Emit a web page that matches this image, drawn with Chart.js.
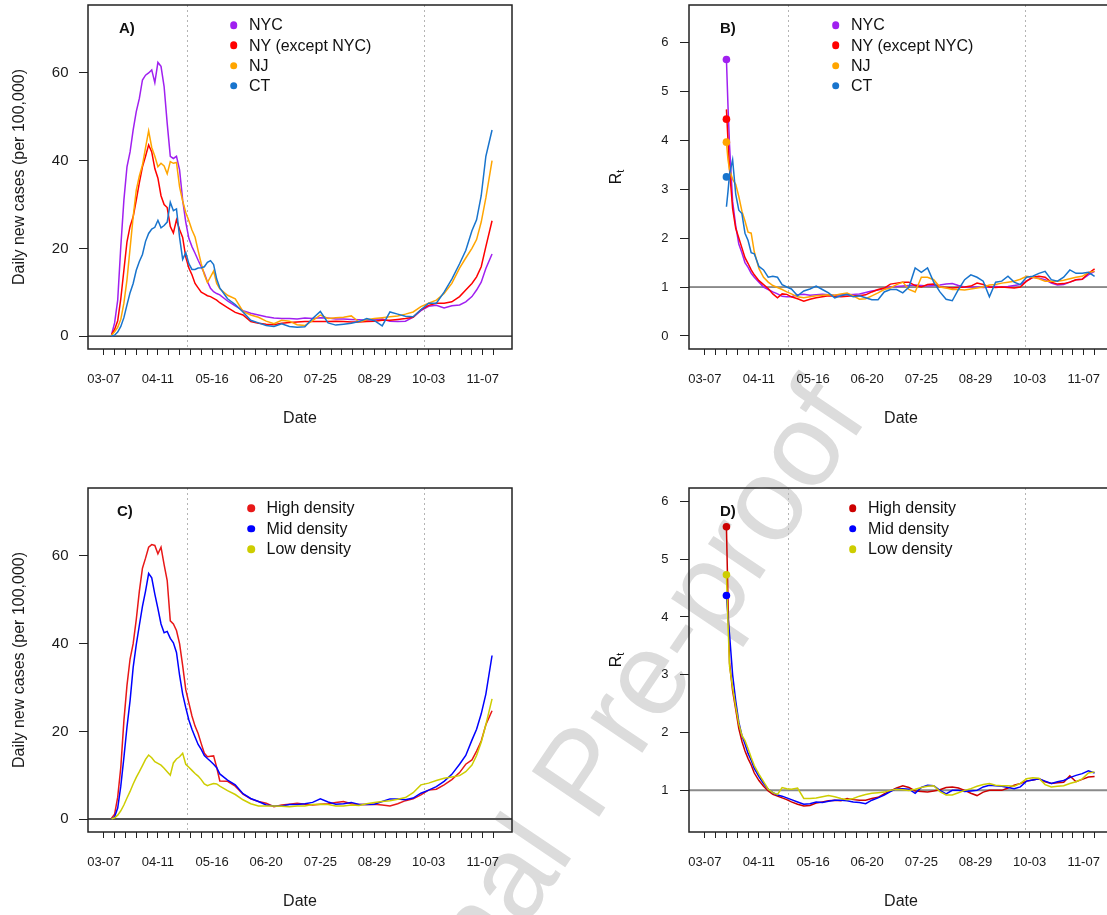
<!DOCTYPE html>
<html>
<head>
<meta charset="utf-8">
<title>Daily new cases and Rt</title>
<script src="https://cdn.jsdelivr.net/npm/chart.js@4.4.1/dist/chart.umd.min.js"></script>
<style>
  html, body { margin:0; padding:0; background:#fff; width:1107px; height:915px; overflow:hidden; position:relative; }
  canvas { position:absolute; z-index:1; }
  #overlay { position:absolute; left:0; top:0; z-index:2; }
  .t { position:absolute; font-family:'Liberation Sans', Arial, Helvetica, sans-serif; color:#111; white-space:nowrap; line-height:1; }
  .tag { font-size:15px; font-weight:bold; }
  .leg { font-size:16px; }
  .dot { position:absolute; width:7.6px; height:7.6px; border-radius:50%; transform:translate(-50%,-50%); }
  .rt { font-size:16px; transform:translate(-50%,-50%) rotate(-90deg); }
  .rt sub { font-size:11px; vertical-align:-3px; }
  .wm { position:absolute; z-index:0; left:580px; top:772px; font-family:'Liberation Sans', Arial, sans-serif; font-size:118px; line-height:1;
        color:#dcdcdc; white-space:nowrap; transform:translate(-50%,-50%) rotate(-56deg); pointer-events:none; }
</style>
</head>
<body>
<div class="wm">Journal Pre-proof</div>
<canvas id="cA" width="540" height="460" style="left:0;top:0;width:540px;height:460px"></canvas>
<canvas id="cB" width="540" height="460" style="left:601px;top:0;width:540px;height:460px"></canvas>
<canvas id="cC" width="540" height="460" style="left:0;top:470px;width:540px;height:460px"></canvas>
<canvas id="cD" width="540" height="460" style="left:601px;top:470px;width:540px;height:460px"></canvas>
<div id="overlay"></div>
<script>
// ---------------- data ----------------
// day numbers count from 03-07 (day 0)
const casesDays = [5,7,9,11,13,15,17,19,21,23,25,27,29,31,33,35,37,39,41,43,45,47,49,51,53,55,57,59,61,63,65,67,69,71,73,75,
  80,85,90,95,100,105,110,115,120,125,130,135,140,145,150,155,160,165,170,175,180,185,190,195,200,205,210,215,220,225,
  230,234,238,241,244,247,251];

const nycCases = [0.3,3,8.2,20.4,31,38.6,42,47,51.2,54.2,58.4,59.5,60,60.7,57.8,62.4,61.5,56.9,48.5,41,40.5,41,37.9,31,26,22.3,20.4,18.9,17.3,15.8,14.3,12.4,10.9,10.1,9.7,9.4,
  8.0,6.9,5.8,5.2,4.8,4.4,4.1,4.0,4.0,3.9,4.1,4.0,4.2,4.1,3.9,3.9,3.8,3.7,3.6,3.8,3.9,3.4,3.3,3.4,4.3,5.8,6.8,7.0,6.4,6.9,
  7.1,7.8,9.0,10.5,12.3,15.4,18.7];
const nyCases = [0.3,1.5,3.5,8.5,15,21.5,25,27.2,31,35,38.6,41,43.6,42,38.2,36,32,30,29.3,25,23.5,26.5,24.3,22.5,18,15.5,14,12,11,10,9.6,9.2,9,8.6,8.2,7.6,
  6.5,5.4,4.8,3.3,2.9,2.7,2.6,2.9,3.1,3.2,3.3,3.3,3.3,3.3,3.4,3.3,3.2,3.2,3.3,3.4,3.6,3.6,3.8,4.0,4.3,6.0,7.0,7.5,7.5,7.8,
  9.0,10.5,12.0,13.5,15.8,20.4,26.3];
const njCases = [0.2,1,2,3.8,7.5,12.8,20,27.2,33.3,36.5,39,43,46.8,43,41,38.6,39.4,38.8,37,39.8,39.4,39.6,34,30.8,28.2,26.3,24.2,22.6,19.5,16.5,14,12.2,13.5,14.8,12,10.8,
  9.3,8.5,5.6,4.8,4.3,3.4,2.8,3.6,3.4,2.6,2.4,3.5,4.8,4.0,4.2,4.3,4.6,3.2,3.7,4.0,4.2,4.4,4.6,5.0,5.5,6.7,7.5,8.2,9.7,12.0,
  15.5,17.8,20.0,22.0,26.0,31.5,40.0];
const ctCases = [0,0.2,0.9,2.2,4.2,7.1,9.9,12,15,17,18.6,21.6,23.4,24.4,24.8,26.4,24.7,25.2,26,30.5,28.6,29,22.5,17.5,19,16.5,15.2,15.2,15.5,15.6,15.8,16.8,17.2,16.3,13,11,
  8.5,7.2,5.5,3.6,3.0,2.4,2.2,2.8,2.2,2.0,2.1,4.0,5.6,3.0,2.5,2.7,2.9,3.3,4.0,3.5,2.3,5.5,5.0,4.5,4.4,6.0,7.5,7.5,10.0,13.0,
  16.5,19.5,24.0,26.5,32.0,41.0,47.0];

const highCases = [0.2,1.1,5,11.8,22.4,30.5,36.5,40,45.5,52,57.2,59.5,62,62.6,62.4,60.5,62,58,54.4,45.2,44.5,43,40,35,29.5,26.5,23.5,21.2,19.5,17.2,15,14.2,14.3,14.4,11.8,8.7,
  8.6,7.5,5.7,4.6,4.0,3.6,2.8,3.2,3.4,3.6,3.4,3.2,3.4,3.5,3.8,4.0,3.5,3.3,3.3,3.4,3.2,3.0,3.5,4.2,4.6,5.5,6.6,6.8,7.8,9.0,
  10.6,12.5,13.5,15.5,17.8,21.5,24.7];
const midCases = [0,0.5,2.5,7.5,14,21,27,34.6,39.8,44.2,48.5,52,56,55,51.3,48,44.5,42.5,42.8,41.2,40.2,38,32.8,28.5,25.4,22.6,20.5,18.7,17,15.9,14.5,13.8,13.2,12.5,11.7,10.3,
  8.9,7.8,5.8,4.7,4.0,3.2,3.0,3.0,3.3,3.3,3.5,3.8,4.6,3.9,3.4,3.5,3.8,3.3,3.3,3.4,4.0,4.6,4.6,4.4,4.8,5.9,6.6,7.4,8.6,10.2,
  12.5,14.5,18.0,20.5,24.0,28.5,37.3];
const lowCases = [0,0.3,0.9,1.9,3.2,4.8,6.3,8,9.5,10.8,12.2,13.6,14.6,14,13.1,12.7,12.3,11.6,10.8,10,12.8,13.7,14.2,15,12.5,11.8,11.1,10.4,9.8,9.0,8.0,7.6,7.9,8.1,8.0,7.5,
  6.5,5.6,4.4,3.5,3.0,3.0,3.0,2.9,2.8,3.0,3.0,3.3,3.4,3.3,3.0,3.0,3.2,3.1,3.5,3.8,4.0,4.2,4.5,4.9,6.0,7.8,8.2,8.8,9.3,9.6,
  9.9,10.8,12.3,14.5,17.5,21.5,27.4];

const rtDays = [14,15,16,18,20,22,24,26,28,30,32,35,38,41,44,47,50,53,56,
  60,64,68,72,76,80,84,88,92,96,100,104,108,112,116,120,124,128,132,136,140,144,148,152,156,160,164,168,172,176,180,
  184,188,192,196,200,204,208,212,216,220,224,228,232,236,240,244,248,252];

const nycRt = [5.65,4.7,3.9,2.75,2.25,1.88,1.7,1.5,1.4,1.28,1.2,1.1,1.0,0.95,0.9,0.86,0.81,0.8,0.8,
  0.84,0.85,0.83,0.84,0.85,0.84,0.83,0.84,0.84,0.85,0.86,0.89,0.92,0.94,0.97,1.0,1.01,1.02,1.03,1.04,1.03,1.02,1.03,1.04,1.06,1.07,1.03,1.0,1.0,1.0,0.99,
  1.0,1.01,1.0,1.01,1.03,1.05,1.12,1.2,1.18,1.15,1.08,1.04,1.05,1.1,1.15,1.16,1.25,1.32];
const nyRt = [4.63,4.0,3.4,2.6,2.2,2.0,1.8,1.6,1.48,1.35,1.25,1.13,1.05,0.97,0.86,0.78,0.86,0.85,0.8,
  0.76,0.71,0.75,0.78,0.80,0.82,0.81,0.80,0.81,0.82,0.82,0.84,0.90,0.95,0.98,1.06,1.08,1.10,1.10,1.03,1.0,1.05,1.06,1.0,0.99,0.98,0.99,1.0,1.02,1.08,1.05,
  1.0,0.99,1.0,0.99,0.98,1.0,1.12,1.2,1.22,1.2,1.1,1.06,1.07,1.1,1.15,1.16,1.28,1.37];
const njRt = [3.96,3.6,3.4,3.2,3.1,2.85,2.55,2.35,2.12,2.1,1.72,1.38,1.2,1.1,1.03,0.99,0.95,0.9,0.86,
  0.8,0.78,0.8,0.82,0.83,0.84,0.83,0.86,0.88,0.82,0.75,0.76,0.82,0.88,0.95,0.98,1.05,1.1,0.95,0.9,1.2,1.2,1.15,1.0,0.98,0.95,0.95,0.94,0.96,0.98,1.0,
  1.04,1.05,1.08,1.1,1.12,1.16,1.22,1.2,1.17,1.12,1.12,1.12,1.14,1.17,1.2,1.22,1.3,1.32];
const ctRt = [2.64,2.95,3.3,3.6,2.9,2.57,2.5,2.1,1.95,1.7,1.68,1.42,1.35,1.2,1.22,1.2,1.05,1.0,0.96,
  0.82,0.92,0.96,1.02,0.95,0.88,0.78,0.82,0.85,0.80,0.82,0.78,0.74,0.74,0.90,0.95,0.95,0.88,1.0,1.39,1.3,1.39,1.1,0.9,0.75,0.72,0.95,1.15,1.25,1.2,1.12,
  0.8,1.1,1.12,1.22,1.1,1.05,1.2,1.22,1.28,1.32,1.15,1.12,1.2,1.35,1.28,1.28,1.3,1.22];

const highRt = [5.56,4.3,3.2,2.72,2.4,2.07,1.85,1.68,1.55,1.44,1.3,1.17,1.07,0.99,0.93,0.9,0.87,0.84,0.8,
  0.76,0.73,0.74,0.78,0.80,0.82,0.83,0.82,0.86,0.84,0.83,0.83,0.86,0.88,0.94,0.99,1.04,1.08,1.05,0.99,0.98,0.97,0.99,1.01,1.05,1.06,1.04,1.0,0.95,0.91,0.97,
  1.0,1.0,1.0,1.04,1.09,1.12,1.16,1.18,1.2,1.15,1.12,1.13,1.14,1.25,1.15,1.19,1.23,1.24];
const midRt = [4.37,4.0,3.7,3.0,2.55,2.18,1.95,1.8,1.64,1.52,1.38,1.24,1.12,1.02,0.96,0.92,0.9,0.87,0.84,
  0.8,0.76,0.77,0.8,0.79,0.81,0.83,0.83,0.82,0.8,0.79,0.77,0.83,0.87,0.92,0.98,1.03,1.03,1.02,0.95,1.05,1.09,1.08,1.0,0.94,1.0,1.0,0.98,0.99,1.0,1.06,
  1.09,1.08,1.07,1.05,1.03,1.06,1.16,1.18,1.2,1.16,1.12,1.15,1.17,1.22,1.26,1.29,1.34,1.3];
const lowRt = [4.73,3.9,3.15,2.78,2.45,2.15,1.95,1.86,1.72,1.57,1.43,1.28,1.15,1.02,0.96,0.93,1.05,1.03,1.02,
  1.04,0.86,0.86,0.87,0.89,0.91,0.89,0.86,0.84,0.86,0.9,0.93,0.95,0.96,0.97,1.0,1.02,1.01,1.0,1.02,1.05,1.07,1.08,0.98,0.92,0.92,0.96,1.0,1.03,1.07,1.1,
  1.12,1.09,1.08,1.08,1.07,1.12,1.2,1.22,1.21,1.1,1.06,1.07,1.08,1.12,1.15,1.2,1.3,1.32];

// first estimated Rt shown as a point (day 14)
const rtStartDay = 14;
const stateRtStart = [5.65, 4.43, 3.96, 3.25];
const densityRtStart = [5.56, 4.37, 4.73];

const stateNames = ['NYC', 'NY (except NYC)', 'NJ', 'CT'];
const densityNames = ['High density', 'Mid density', 'Low density'];

// axis ticks
const weekTickDays = [0,7,14,21,28,35,42,49,56,63,70,77,84,91,98,105,112,119,126,133,140,147,154,161,168,175,182,189,196,203,210,217,224,231,238,245,252];
const labelDays = [0,35,70,105,140,175,210,245];
const dateLabels = ['03-07','04-11','05-16','06-20','07-25','08-29','10-03','11-07'];
const casesTicks = [0,20,40,60];
const rtTicksB = [0,1,2,3,4,5,6];
const rtTicksD = [1,2,3,4,5,6];
const eventDays = [54, 207];   // 04-30 and 09-30

// ---------------- styling ----------------
const stateColors = ['#A020F0', '#FF0000', '#FFA500', '#1874CD'];
const densityColorsC = ['#E81818', '#0000FF', '#CDCD00'];
const densityColorsD = ['#CC0000', '#0000FF', '#CDCD00'];

Chart.defaults.font.family = "'Liberation Sans', Arial, Helvetica, sans-serif";
Chart.defaults.color = '#1a1a1a';

const X_MIN = -10.2, X_MAX = 263.9;

const framePlugin = {
  id: 'frame',
  beforeDatasetsDraw(chart, args, o) {
    const {ctx, chartArea: {left, right, top, bottom}, scales: {x, y}} = chart;
    ctx.save();
    ctx.strokeStyle = '#b4b4b4'; ctx.lineWidth = 1; ctx.setLineDash([2, 3]);
    o.events.forEach(d => {
      const px = Math.round(x.getPixelForValue(d)) + 0.5;
      ctx.beginPath(); ctx.moveTo(px, top); ctx.lineTo(px, bottom); ctx.stroke();
    });
    ctx.setLineDash([]);
    const py = y.getPixelForValue(o.ref);
    ctx.strokeStyle = o.refColor; ctx.lineWidth = o.refWidth;
    ctx.beginPath(); ctx.moveTo(left, py); ctx.lineTo(right, py); ctx.stroke();
    ctx.restore();
  },
  afterDraw(chart) {
    const {ctx, chartArea: {left, right, top, bottom}} = chart;
    ctx.save();
    ctx.strokeStyle = '#222'; ctx.lineWidth = 1.5;
    ctx.strokeRect(left, top, right - left, bottom - top);
    ctx.restore();
  }
};

function zeroPad(s) { s.paddingTop = 0; s.paddingBottom = 0; s.paddingLeft = 0; s.paddingRight = 0; }

function buildChart(id, o) {
  const datasets = o.series.map((vals, i) => ({
    type: 'line',
    data: o.days.map((d, k) => ({x: d, y: vals[k]})),
    borderColor: o.colors[i], borderWidth: 1.5, pointRadius: 0, tension: 0, fill: false,
    order: o.series.length - i + 1
  }));
  if (o.start) {
    datasets.push({
      type: 'scatter',
      data: o.start.map(v => ({x: rtStartDay, y: v})),
      pointRadius: 3.8, pointBackgroundColor: o.colors, pointBorderColor: o.colors, pointBorderWidth: 0,
      showLine: false, order: 0
    });
  }
  return new Chart(document.getElementById(id), {
    type: 'line',
    data: {datasets},
    options: {
      responsive: false, animation: false, devicePixelRatio: 1, events: [],
      layout: {padding: {left: 0, right: o.padRight, top: o.padTop, bottom: 0}},
      plugins: {legend: {display: false}, tooltip: {enabled: false},
        frame: {events: eventDays, ref: o.ref, refColor: o.refColor, refWidth: o.refWidth}},
      scales: {
        x: {
          type: 'linear', min: X_MIN, max: X_MAX,
          afterBuildTicks: s => { s.ticks = weekTickDays.map(v => ({value: v})); },
          afterFit: s => { s.height = o.bottomH; zeroPad(s); },
          grid: {display: true, drawOnChartArea: false, drawTicks: true, tickLength: 6, tickColor: '#222', tickWidth: 1, lineWidth: 1},
          border: {display: false},
          ticks: {autoSkip: false, maxRotation: 0, minRotation: 0, font: {size: 13}, padding: 17, color: '#1a1a1a',
            callback: v => { const i = labelDays.indexOf(v); return i >= 0 ? dateLabels[i] : ''; }},
          title: {display: true, text: 'Date', font: {size: 16}, color: '#1a1a1a', padding: {top: 0, bottom: o.datePad}}
        },
        y: {
          type: 'linear', min: o.yMin, max: o.yMax,
          afterBuildTicks: s => { s.ticks = o.yTicks.map(v => ({value: v})); },
          afterFit: s => { s.width = o.leftW; zeroPad(s); },
          grid: {display: true, drawOnChartArea: false, drawTicks: true, tickLength: 9, tickColor: '#222', tickWidth: 1, lineWidth: 1},
          border: {display: false},
          ticks: {font: {size: o.yFont}, padding: o.yPad, color: '#1a1a1a', callback: v => String(v)},
          title: {display: !!o.yTitle, text: o.yTitle || '', font: {size: 16}, color: '#1a1a1a', padding: {top: 10.4, bottom: 0}}
        }
      }
    },
    plugins: [framePlugin]
  });
}

buildChart('cA', {days: casesDays, series: [nycCases, nyCases, njCases, ctCases], colors: stateColors,
  yMin: -2.95, yMax: 75.5, yTicks: casesTicks, yFont: 15, yPad: 10.5, yTitle: 'Daily new cases (per 100,000)',
  leftW: 88, padRight: 28, padTop: 5, bottomH: 111, datePad: 31.4, ref: 0, refColor: '#111', refWidth: 1.3});
buildChart('cB', {days: rtDays, series: [nycRt, nyRt, njRt, ctRt], colors: stateColors, start: stateRtStart,
  yMin: -0.266, yMax: 6.762, yTicks: rtTicksB, yFont: 13, yPad: 11.5,
  leftW: 88, padRight: 28, padTop: 5, bottomH: 111, datePad: 31.4, ref: 1, refColor: '#222', refWidth: 1});
buildChart('cC', {days: casesDays, series: [highCases, midCases, lowCases], colors: densityColorsC,
  yMin: -2.95, yMax: 75.5, yTicks: casesTicks, yFont: 15, yPad: 10.5, yTitle: 'Daily new cases (per 100,000)',
  leftW: 88, padRight: 28, padTop: 18, bottomH: 98, datePad: 18.4, ref: 0, refColor: '#555', refWidth: 2});
buildChart('cD', {days: rtDays, series: [highRt, midRt, lowRt], colors: densityColorsD, start: densityRtStart,
  yMin: 0.28, yMax: 6.23, yTicks: rtTicksD, yFont: 13, yPad: 11.5,
  leftW: 88, padRight: 28, padTop: 18, bottomH: 98, datePad: 18.4, ref: 1, refColor: '#8a8a8a', refWidth: 2});

// ---------------- overlay text (panel tags, legends, R_t titles) ----------------
const ov = document.getElementById('overlay');
function addText(cls, html, left, capCenterY, size) {
  const d = document.createElement('div');
  d.className = 't ' + cls;
  d.innerHTML = html;
  d.style.left = left + 'px';
  d.style.top = (capCenterY - 0.4885 * size) + 'px';
  ov.appendChild(d);
}
function addLegend(names, colors, dotX, textX, rowYs) {
  names.forEach((n, i) => {
    const dot = document.createElement('div');
    dot.className = 'dot';
    dot.style.left = dotX + 'px'; dot.style.top = rowYs[i] + 'px'; dot.style.background = colors[i];
    ov.appendChild(dot);
    addText('leg', n, textX, rowYs[i], 16);
  });
}
addText('tag', 'A)', 119, 27, 15);
addText('tag', 'B)', 720, 27, 15);
addText('tag', 'C)', 117, 510, 15);
addText('tag', 'D)', 720, 510, 15);
addLegend(stateNames, stateColors, 233.7, 249, [25.2, 45.4, 65.6, 85.9]);
addLegend(stateNames, stateColors, 835.7, 851, [25.2, 45.4, 65.6, 85.9]);
addLegend(densityNames, densityColorsC, 251.2, 266.5, [508.1, 528.7, 549.3]);
addLegend(densityNames, densityColorsD, 852.5, 868, [508.1, 528.7, 549.3]);
[[617, 177], [617, 660]].forEach(([x, y]) => {
  const d = document.createElement('div');
  d.className = 't rt';
  d.innerHTML = 'R<sub>t</sub>';
  d.style.left = x + 'px'; d.style.top = y + 'px';
  ov.appendChild(d);
});
</script>
</body>
</html>
